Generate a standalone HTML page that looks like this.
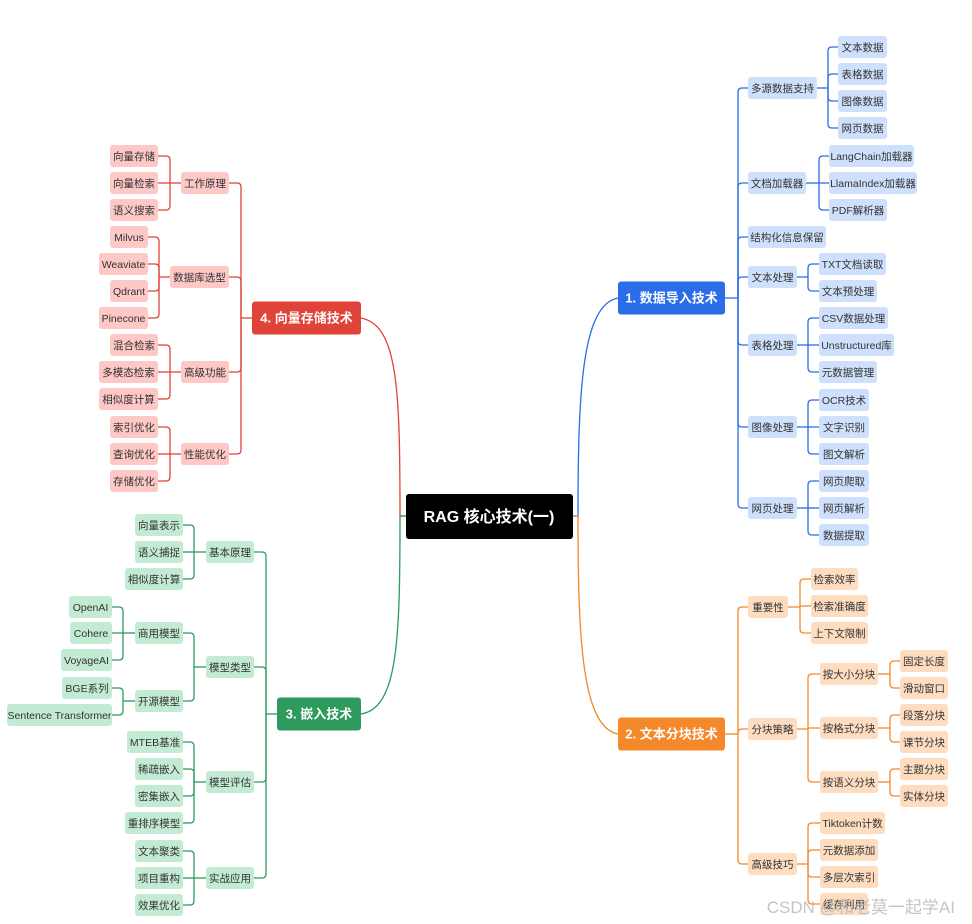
<!DOCTYPE html>
<html><head><meta charset="utf-8">
<style>
html,body{margin:0;padding:0;background:#fff;width:972px;height:924px;overflow:hidden}
svg text{font-family:"Liberation Sans","Noto Sans CJK SC",sans-serif}
</style></head>
<body>
<svg id="s" width="972" height="924" xmlns="http://www.w3.org/2000/svg"></svg>
<script>
const S=document.getElementById('s');let h='';
const H=22;
function box(t,x1,x2,cy,fill,col,fs,bold,tc){
  const hh=(fs>12)?33:H;
  h+=`<rect x="${x1}" y="${cy-hh/2}" width="${x2-x1}" height="${hh}" rx="3" fill="${fill}"/>`;
  h+=`<text x="${(x1+x2)/2}" y="${cy+fs*0.36}" font-size="${fs}" text-anchor="middle" fill="${tc||'#333'}" ${bold?'font-weight="bold"':''}>${t}</text>`;
}
function conn(px,py,cx,kids,col,right){
  h+=`<path d="M${px},${py}H${cx}" stroke="${col}" stroke-width="1.3" fill="none"/>`;
  for(const [ex,cy] of kids){
    let r=Math.min(4,Math.abs(cy-py));
    let d;
    if(Math.abs(cy-py)<1) d=`M${cx},${py}H${ex}`;
    else{
      const s=cy>py?1:-1; const dx=right?r:-r;
      d=`M${cx},${py}V${cy-s*r}Q${cx},${cy} ${cx+dx},${cy}H${ex}`;
    }
    h+=`<path d="${d}" stroke="${col}" stroke-width="1.3" fill="none"/>`;
  }
}
const FS=10.5;
function group(par,kids,fill,col,right,cx){
  box(par[0],par[1],par[2],par[3],fill,col,FS);
  const pe=right?par[2]:par[1];
  conn(pe,par[3],cx,kids.map(k=>[right?k[1]:k[2],k[3]]),col,right);
  kids.forEach(k=>box(k[0],k[1],k[2],k[3],fill,col,FS));
}
h+=`<path d="M406,516H400C400,390 398,325 361,318" stroke="#e04338" stroke-width="1.3" fill="none"/>`;
h+=`<path d="M406,516H400C400,640 398,708 361,714" stroke="#2e9a5e" stroke-width="1.3" fill="none"/>`;
h+=`<path d="M572,516H578C578,390 582,305 618,298" stroke="#2b6de8" stroke-width="1.3" fill="none"/>`;
h+=`<path d="M572,516H578C578,640 582,727 618,734" stroke="#f5882a" stroke-width="1.3" fill="none"/>`;

const B='#2b6de8',BL='#cfe0fc';
conn(725,298,738,[[748,88],[748,183],[748,237],[748,277],[748,345],[748,427],[748,508]],B,true);
group(['多源数据支持',748,817,88],[['文本数据',838,887,47],['表格数据',838,887,74],['图像数据',838,887,101],['网页数据',838,887,128]],BL,B,true,828);
group(['文档加载器',748,806,183],[['LangChain加载器',829,914,156],['LlamaIndex加载器',829,917,183],['PDF解析器',829,887,210]],BL,B,true,819);
box('结构化信息保留',748,826,237,BL,B,FS);
group(['文本处理',748,797,277],[['TXT文档读取',819,886,264],['文本预处理',819,877,291]],BL,B,true,808);
group(['表格处理',748,797,345],[['CSV数据处理',819,888,318],['Unstructured库',819,894,345],['元数据管理',819,877,372]],BL,B,true,808);
group(['图像处理',748,797,427],[['OCR技术',819,869,400],['文字识别',819,869,427],['图文解析',819,869,454]],BL,B,true,808);
group(['网页处理',748,797,508],[['网页爬取',819,869,481],['网页解析',819,869,508],['数据提取',819,869,535]],BL,B,true,808);
box('1. 数据导入技术',618,725,298,B,B,13,true,'#fff');

const O='#f5882a',OL='#fddcc0';
conn(725,734,738,[[748,607],[748,729],[748,864]],O,true);
group(['重要性',748,788,607],[['检索效率',811,858,579],['检索准确度',811,868,606],['上下文限制',811,868,633]],OL,O,true,800);
group(['分块策略',748,797,729],[['按大小分块',820,878,674],['按格式分块',820,878,728],['按语义分块',820,878,782]],OL,O,true,808);
group(['按大小分块',820,878,674],[['固定长度',900,948,661],['滑动窗口',900,948,688]],OL,O,true,890);
group(['按格式分块',820,878,728],[['段落分块',900,948,715],['课节分块',900,948,742]],OL,O,true,890);
group(['按语义分块',820,878,782],[['主题分块',900,948,769],['实体分块',900,948,796]],OL,O,true,890);
group(['高级技巧',748,797,864],[['Tiktoken计数',820,885,823],['元数据添加',820,878,850],['多层次索引',820,878,877],['缓存利用',820,868,904]],OL,O,true,808);
box('2. 文本分块技术',618,725,734,O,O,13,true,'#fff');

const G='#2e9a5e',GL='#c3ebd3';
conn(277,714,266,[[254,552],[254,667],[254,782],[254,878]],G,false);
group(['基本原理',206,254,552],[['向量表示',135,183,525],['语义捕捉',135,183,552],['相似度计算',125,183,579]],GL,G,false,194);
group(['模型类型',206,254,667],[['商用模型',135,183,633],['开源模型',135,183,701]],GL,G,false,194);
group(['商用模型',135,183,633],[['OpenAI',69,112,607],['Cohere',70,112,633],['VoyageAI',61,112,660]],GL,G,false,123);
group(['开源模型',135,183,701],[['BGE系列',62,112,688],['Sentence Transformer',7,112,715]],GL,G,false,123);
group(['模型评估',206,254,782],[['MTEB基准',127,183,742],['稀疏嵌入',135,183,769],['密集嵌入',135,183,796],['重排序模型',125,183,823]],GL,G,false,194);
group(['实战应用',206,254,878],[['文本聚类',135,183,851],['项目重构',135,183,878],['效果优化',135,183,905]],GL,G,false,194);
box('3. 嵌入技术',277,361,714,G,G,13,true,'#fff');

const R='#e04338',RL='#fdc8c6';
conn(252,318,241,[[229,183],[229,277],[229,372],[229,454]],R,false);
group(['工作原理',181,229,183],[['向量存储',110,158,156],['向量检索',110,158,183],['语义搜索',110,158,210]],RL,R,false,170);
group(['数据库选型',170,229,277],[['Milvus',110,148,237],['Weaviate',99,148,264],['Qdrant',110,148,291],['Pinecone',99,148,318]],RL,R,false,159);
group(['高级功能',181,229,372],[['混合检索',110,158,345],['多模态检索',99,158,372],['相似度计算',99,158,399]],RL,R,false,170);
group(['性能优化',181,229,454],[['索引优化',110,158,427],['查询优化',110,158,454],['存储优化',110,158,481]],RL,R,false,170);
box('4. 向量存储技术',252,361,318,R,R,13,true,'#fff');

h+=`<rect x="406" y="494" width="167" height="45" rx="3" fill="#000"/>`;
h+=`<text x="489" y="522" font-size="16" font-weight="bold" text-anchor="middle" fill="#fff">RAG 核心技术(一)</text>`;
h+=`<text x="955" y="913" font-size="17" text-anchor="end" fill="#bbb" fill-opacity="0.85">CSDN @和老莫一起学AI</text>`;
S.innerHTML=h;
</script>
</body></html>
